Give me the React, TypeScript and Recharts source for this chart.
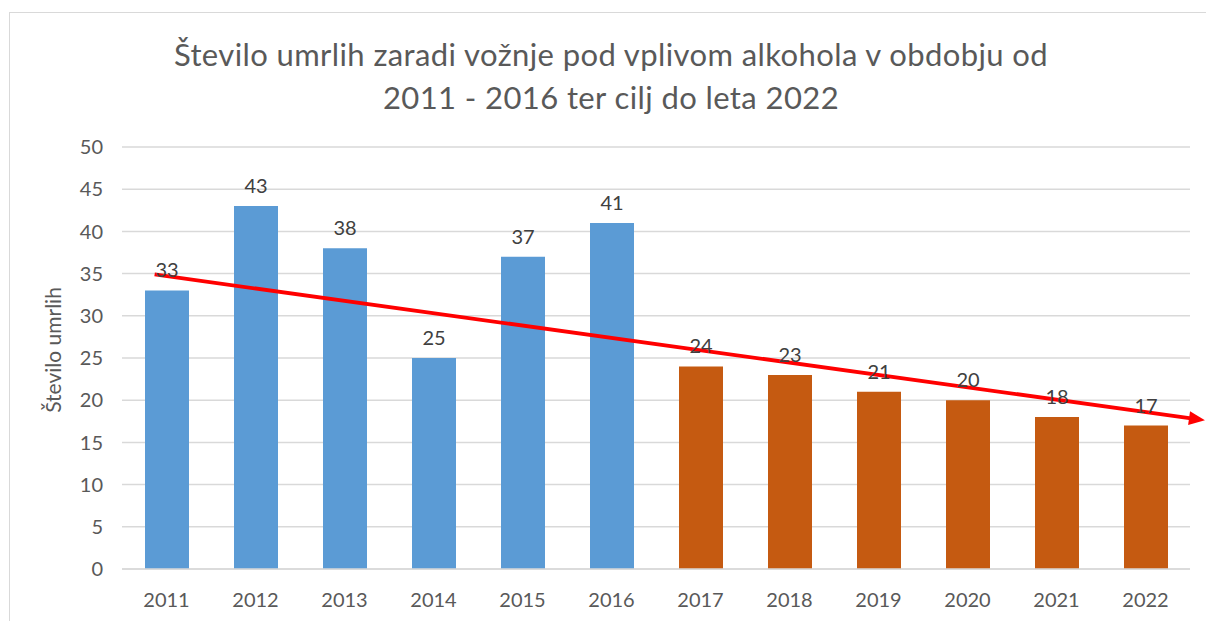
import {
  BarChart,
  Bar,
  XAxis,
  YAxis,
  CartesianGrid,
  Cell,
  LabelList,
  ReferenceLine,
  Label,
} from "recharts";

const years = ["2011", "2012", "2013", "2014", "2015", "2016", "2017", "2018", "2019", "2020", "2021", "2022"];
const deaths = [33, 43, 38, 25, 37, 41, 24, 23, 21, 20, 18, 17];
// first six years are recorded, the rest are yearly targets up to 2022
const isTarget = [false, false, false, false, false, false, true, true, true, true, true, true];
const yTicks = [0, 5, 10, 15, 20, 25, 30, 35, 40, 45, 50];
// the red target arrow, read at the 2011 and 2022 bar centres
const trendFrom = { year: "2011", value: 34.7 };
const trendTo = { year: "2022", value: 18.6 };

const titleLines = [
  "Število umrlih zaradi vožnje pod vplivom alkohola v obdobju od",
  "2011 - 2016 ter cilj do leta 2022",
];

const data = years.map((year, i) => ({ year, deaths: deaths[i], target: isTarget[i] }));

const FONT = "Lato, 'Open Sans', sans-serif";

/** Red line with an arrowhead, stretched a little past both segment ends. */
function TrendArrow(props: any) {
  const { x1, y1, x2, y2 } = props;
  const dx = x2 - x1;
  const dy = y2 - y1;
  const len = Math.hypot(dx, dy) || 1;
  const ux = dx / len;
  const uy = dy / len;
  const sx = x1 - ux * 12;
  const sy = y1 - uy * 12;
  const tx = x2 + ux * 60;
  const ty = y2 + uy * 60;
  const head = 16;
  const half = 7;
  const bx = tx - ux * head;
  const by = ty - uy * head;
  return (
    <g>
      <line x1={sx} y1={sy} x2={bx + ux * 2} y2={by + uy * 2} stroke="#ff0000" strokeWidth={3.8} />
      <polygon
        points={`${tx},${ty} ${bx - uy * half},${by + ux * half} ${bx + uy * half},${by - ux * half}`}
        fill="#ff0000"
      />
    </g>
  );
}

export default function App() {
  return (
    <div
      style={{
        position: "absolute",
        left: 0,
        top: 0,
        width: 1206,
        height: 621,
        overflow: "hidden",
        background: "#ffffff",
        fontFamily: FONT,
      }}
    >
      <div
        style={{
          position: "absolute",
          left: 9,
          top: 12,
          width: 1240,
          height: 660,
          border: "1.5px solid #d9d9d9",
          boxSizing: "border-box",
        }}
      />
      <div
        style={{
          position: "absolute",
          left: 0,
          top: 33,
          width: 1222,
          textAlign: "center",
          fontSize: 31,
          letterSpacing: 0.4,
          lineHeight: "43px",
          color: "#595959",
        }}
      >
        {titleLines.map((t) => (
          <div key={t}>{t}</div>
        ))}
      </div>
      <div style={{ position: "absolute", left: 0, top: 0 }}>
        <BarChart
          width={1206}
          height={621}
          data={data}
          margin={{ top: 147, right: 16, left: 0, bottom: 12 }}
        >
          <CartesianGrid vertical={false} stroke="#d9d9d9" strokeWidth={1.5} />
          <XAxis
            dataKey="year"
            height={40}
            tickLine={false}
            tickSize={0}
            tickMargin={24}
            axisLine={{ stroke: "#d9d9d9", strokeWidth: 1.5 }}
            tick={{ fill: "#595959", fontSize: 20, fontFamily: FONT }}
          />
          <YAxis
            width={122}
            domain={[0, 50]}
            ticks={yTicks}
            interval={0}
            axisLine={false}
            tickLine={false}
            tickSize={0}
            tickMargin={19}
            tick={{ fill: "#595959", fontSize: 20, fontFamily: FONT }}
          >
            <Label
              value="Število umrlih"
              angle={-90}
              position="center"
              dx={-7}
              dy={-8}
              fill="#595959"
              fontSize={21}
              fontFamily={FONT}
            />
          </YAxis>
          <Bar dataKey="deaths" barSize={44} isAnimationActive={false}>
            {data.map((d) => (
              <Cell key={d.year} fill={d.target ? "#c55a11" : "#5b9bd5"} />
            ))}
            <LabelList
              dataKey="deaths"
              position="top"
              offset={13}
              fill="#404040"
              fontSize={20}
              fontFamily={FONT}
            />
          </Bar>
          <ReferenceLine
            segment={[
              { x: trendFrom.year, y: trendFrom.value },
              { x: trendTo.year, y: trendTo.value },
            ]}
            ifOverflow="visible"
            shape={(p: any) => <TrendArrow {...p} />}
          />
        </BarChart>
      </div>
    </div>
  );
}
